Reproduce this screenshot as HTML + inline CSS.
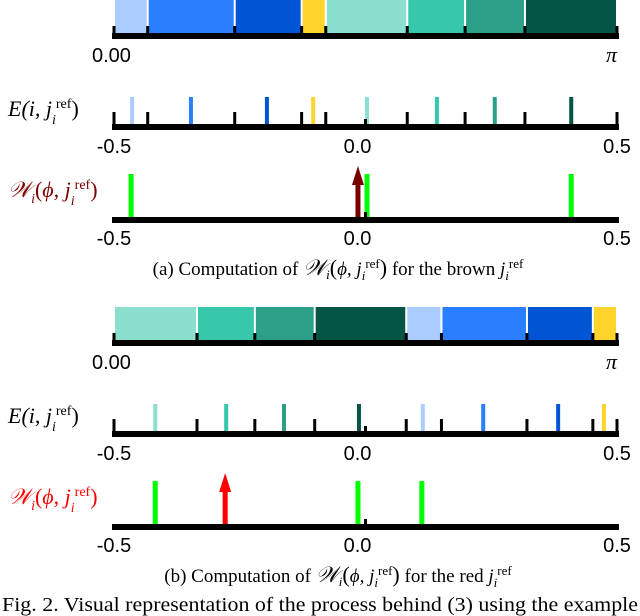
<!DOCTYPE html>
<html><head><meta charset="utf-8"><style>
body{margin:0;background:#fff;width:640px;height:616px;overflow:hidden}
svg{display:block}
.s{font-family:"Liberation Sans",sans-serif;font-size:20px}
.r{font-family:"Liberation Serif",serif}
</style></head><body>
<svg id="c" width="640" height="616"></svg>
<script>
const colorsA=["#aaccff","#2a7fff","#0055d4","#ffd42a","#8bdfcf","#37c8ab","#2c9f88","#045545"];
const boundsA=[0,0.067,0.240,0.373,0.421,0.583,0.698,0.817,1.0];
const eMarksA=[-0.464,-0.347,-0.196,-0.104,0.003,0.142,0.257,0.409];
const wBarsA=[-0.466,0.003,0.409];
const arrowA=-0.015;
const colorsB=["#8bdfcf","#37c8ab","#2c9f88","#045545","#aaccff","#2a7fff","#0055d4","#ffd42a"];
const boundsB=[0,0.165,0.280,0.399,0.581,0.651,0.821,0.952,1.0];
const eMarksB=[-0.418,-0.277,-0.162,-0.013,0.114,0.234,0.383,0.474];
const wBarsB=[-0.418,-0.015,0.112];
const arrowB=-0.279;
const tickLabels=["-0.5","0.0","0.5"];
const tickVals=[-0.5,0,0.5];

const NS="http://www.w3.org/2000/svg";
const svg=document.getElementById('c');
const X0=114,X1=617;
const xp=f=>X0+f*(X1-X0);
const xe=v=>X0+(v+0.5)*(X1-X0);
function el(t,a,txt){const e=document.createElementNS(NS,t);for(const k in a)e.setAttribute(k,a[k]);if(txt!==undefined)e.textContent=txt;svg.appendChild(e);return e;}

function panel(oy,colors,bounds,eMarks,wBars,arrow,arrowColor,tag,ref){
  for(let i=0;i<colors.length;i++){
    const r=el('rect',{x:xp(bounds[i])+1,y:oy,width:xp(bounds[i+1])-xp(bounds[i])-2,height:34,fill:colors[i]});
    
    
  }
  let l=el('rect',{x:X0-2,y:oy+33,width:X1-X0+4,height:6,fill:'#000'});
  
  for(const b of bounds){const t=el('rect',{x:xp(b)-1.5,y:oy+26,width:3,height:12,fill:'#000'});
    }
  let t=el('text',{x:92,y:oy+62,class:'s'},'0.00');
  t=el('text',{x:606,y:oy+62,class:'r','font-size':'22','font-style':'italic'},'π');
  const ey=oy+126;
  t=el('text',{x:8,y:ey-10,class:'r','font-size':'22','font-style':'italic'});
  t.innerHTML='E(i, j<tspan font-size="14" dy="8">i</tspan><tspan font-size="14" dy="-16" font-style="normal">ref</tspan><tspan dy="8" font-style="normal">)</tspan>';
  
  for(let i=0;i<eMarks.length;i++){const m=el('rect',{x:xe(eMarks[i])-2,y:ey-29,width:4,height:28,fill:colors[i]});
    }
  l=el('rect',{x:X0-2,y:ey-2,width:X1-X0+4,height:6,fill:'#000'});
  for(const b of bounds){const k=el('rect',{x:xe(b-0.5)-1.5,y:ey-14,width:3,height:16,fill:'#000'});
    }
  let k=el('rect',{x:xe(0)-1.5,y:ey-7,width:3,height:8,fill:'#000'});
  tickVals.forEach((v,i)=>{const tl=el('text',{x:xe(v)-(v===0?8:0),y:ey+27,class:'s','text-anchor':'middle'},tickLabels[i]);
    });
  const wy=oy+219;
  t=el('text',{x:8,y:wy-22,class:'r','font-size':'22','font-style':'italic',fill:arrowColor});
  t.innerHTML='𝒲<tspan font-size="14" dy="6">i</tspan><tspan dy="-6" font-style="normal">(</tspan>ϕ, j<tspan font-size="14" dy="8">i</tspan><tspan font-size="14" dy="-16" font-style="normal">ref</tspan><tspan dy="8" font-style="normal">)</tspan>';
  
  for(const v of wBars){const g=el('rect',{x:xe(v)-2.5,y:wy-45,width:5,height:44,fill:'#00ff00'});
    }
  const ax=xe(arrow);
  let a=el('rect',{x:ax-2.5,y:wy-36,width:5,height:38,fill:arrowColor});
  a=el('polygon',{points:`${ax-6},${wy-34} ${ax+6},${wy-34} ${ax},${wy-53}`,fill:arrowColor});
  l=el('rect',{x:X0-2,y:wy-2,width:X1-X0+4,height:6,fill:'#000'});
  k=el('rect',{x:xe(0)-1.5,y:wy-7,width:3,height:8,fill:'#000'});
  tickVals.forEach((v,i)=>{const tl=el('text',{x:xe(v)-(v===0?8:0),y:wy+26,class:'s','text-anchor':'middle'},tickLabels[i]);
    });
  t=el('text',{x:338,y:oy+275,class:'r','font-size':'19','text-anchor':'middle'});
  t.innerHTML=`(${tag}) Computation of <tspan font-style="italic" font-size="22">𝒲</tspan><tspan font-size="13" dy="4" font-style="italic">i</tspan><tspan dy="-4" font-size="22">(</tspan><tspan font-style="italic">ϕ, j</tspan><tspan font-size="13" dy="5" font-style="italic">i</tspan><tspan font-size="13" dy="-12">ref</tspan><tspan dy="7" font-size="22">)</tspan><tspan> for the ${ref} </tspan><tspan font-style="italic">j</tspan><tspan font-size="13" dy="5" font-style="italic">i</tspan><tspan font-size="13" dy="-12">ref</tspan>`;
  
}
panel(0,colorsA,boundsA,eMarksA,wBarsA,arrowA,'#7a0000','a','brown');
panel(307,colorsB,boundsB,eMarksB,wBarsB,arrowB,'#ff0000','b','red');
const f=el('text',{x:2,y:611,class:'r','font-size':'19.5',textLength:'636',lengthAdjust:'spacingAndGlyphs'},'Fig. 2.   Visual representation of the process behind (3) using the example');


</script>
</body></html>
